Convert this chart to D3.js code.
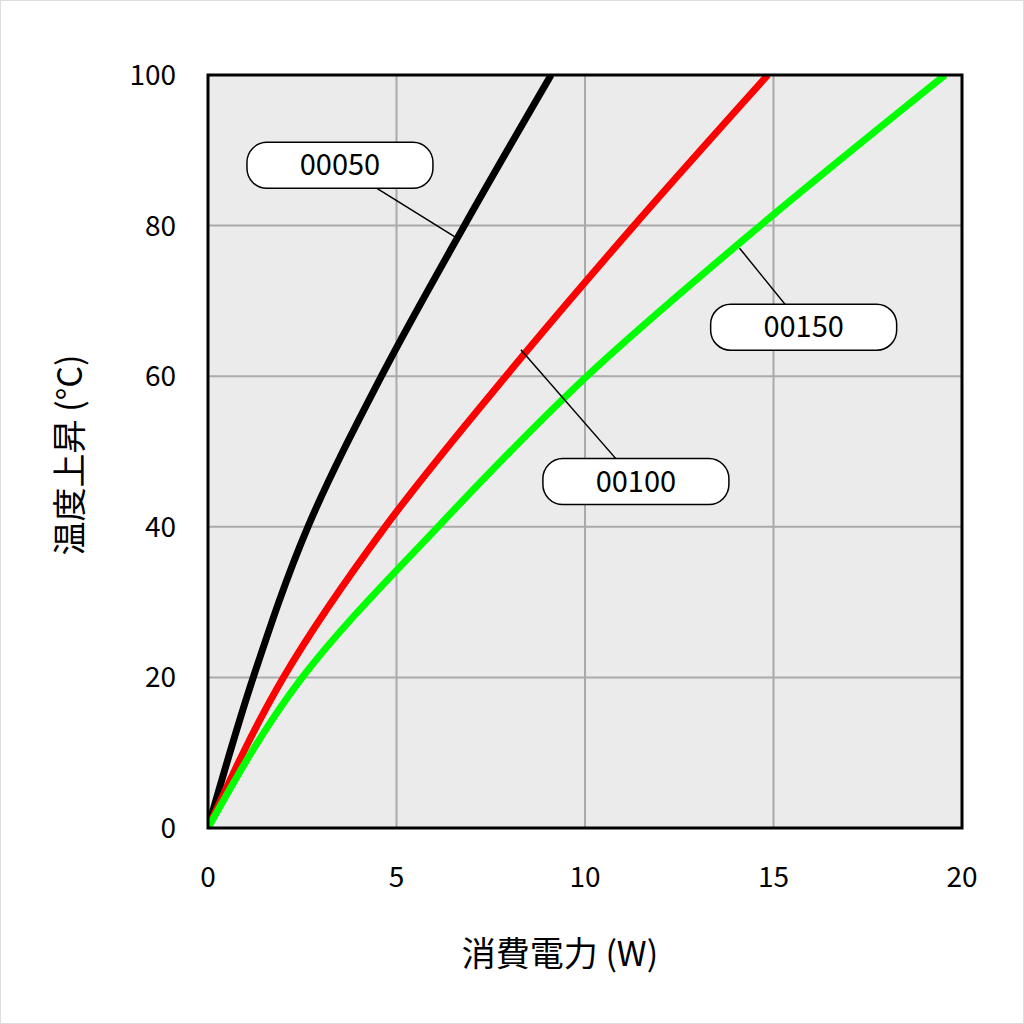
<!DOCTYPE html>
<html><head><meta charset="utf-8">
<script src="https://cdn.jsdelivr.net/npm/d3@7"></script>
<style>body{margin:0;background:#fff;font-family:"Noto Sans CJK JP","Noto Sans",sans-serif;}</style>
</head><body>
<div id="chart"></div>
<script>
// temperature rise levels (°C)
const riseLevels = [0, 20, 40, 60, 80, 100];
// power (W) needed for each rise level, per model
const power00050 = [0, 1.2, 2.65, 4.6, 6.8, 9.1];
const power00100 = [0, 2.0, 4.7, 7.9, 11.3, 14.85];
const power00150 = [0, 2.5, 6.1, 10.05, 14.65, 19.55];
const seriesNames = ["00050", "00100", "00150"];
const seriesColors = ["#000000", "#ff0000", "#00ff00"];
const xTicks = [0, 5, 10, 15, 20];
const yTicks = [0, 20, 40, 60, 80, 100];
// label boxes: [centre power, centre rise, leader end power, leader end rise]
const labelSpots = [[3.5, 88, 6.55, 78.5], [11.35, 46, 8.3, 63.5], [15.8, 66.5, 14.1, 77]];

const W = 1024, H = 1024;
const svg = d3.select("#chart").append("svg").attr("width", W).attr("height", H);
svg.append("rect").attr("x", 0.5).attr("y", 0.5).attr("width", W - 1).attr("height", H - 1)
    .attr("fill", "#fff").attr("stroke", "#ddd");

const x = d3.scaleLinear().domain([0, 20]).range([208, 962]);
const y = d3.scaleLinear().domain([0, 100]).range([828, 75]);

svg.append("rect").attr("x", 208).attr("y", 75).attr("width", 754).attr("height", 753).attr("fill", "#ebebeb");

// grid
svg.selectAll(".gx").data(xTicks).enter().append("line")
    .attr("x1", d => x(d)).attr("x2", d => x(d)).attr("y1", 75).attr("y2", 828)
    .attr("stroke", "#aaa").attr("stroke-width", 2);
svg.selectAll(".gy").data(yTicks).enter().append("line")
    .attr("x1", 208).attr("x2", 962).attr("y1", d => y(d)).attr("y2", d => y(d))
    .attr("stroke", "#aaa").attr("stroke-width", 2);

// curves
const allSeries = [power00050, power00100, power00150];
const line = d3.line().x(d => x(d[0])).y(d => y(d[1])).curve(d3.curveMonotoneY);
const clip = svg.append("clipPath").attr("id", "pc");
clip.append("rect").attr("x", 208).attr("y", 75).attr("width", 754).attr("height", 753);
allSeries.forEach((s, i) => {
    svg.append("path").attr("clip-path", "url(#pc)")
        .datum(s.map((p, j) => [p, riseLevels[j]]))
        .attr("d", line).attr("fill", "none")
        .attr("stroke", seriesColors[i]).attr("stroke-width", 7);
});

svg.append("rect").attr("x", 208).attr("y", 75).attr("width", 754).attr("height", 753)
    .attr("fill", "none").attr("stroke", "#000").attr("stroke-width", 3);

// tick labels
svg.selectAll(".tx").data(xTicks).enter().append("text")
    .attr("x", d => x(d)).attr("y", 887).attr("text-anchor", "middle")
    .attr("font-size", 28).text(d => d);
svg.selectAll(".ty").data(yTicks).enter().append("text")
    .attr("x", 176).attr("y", d => y(d) + 10).attr("text-anchor", "end")
    .attr("font-size", 28).text(d => d);

svg.append("text").attr("x", 560).attr("y", 966).attr("text-anchor", "middle")
    .attr("font-size", 34).text("消費電力 (W)");
svg.append("text").attr("transform", "translate(82,455) rotate(-90)").attr("text-anchor", "middle")
    .attr("font-size", 34).text("温度上昇 (°C)");

// labels with leaders
labelSpots.forEach((l, i) => {
    const cx = x(l[0]), cy = y(l[1]);
    svg.append("line").attr("x1", cx).attr("y1", cy).attr("x2", x(l[2])).attr("y2", y(l[3]))
        .attr("stroke", "#000").attr("stroke-width", 1.5);
    svg.append("rect").attr("x", cx - 93).attr("y", cy - 23).attr("width", 186).attr("height", 46)
        .attr("rx", 20).attr("fill", "#fff").attr("stroke", "#000").attr("stroke-width", 1.5);
    svg.append("text").attr("x", cx).attr("y", cy + 10).attr("text-anchor", "middle")
        .attr("font-size", 29).text(seriesNames[i]);
});
</script>
</body></html>
